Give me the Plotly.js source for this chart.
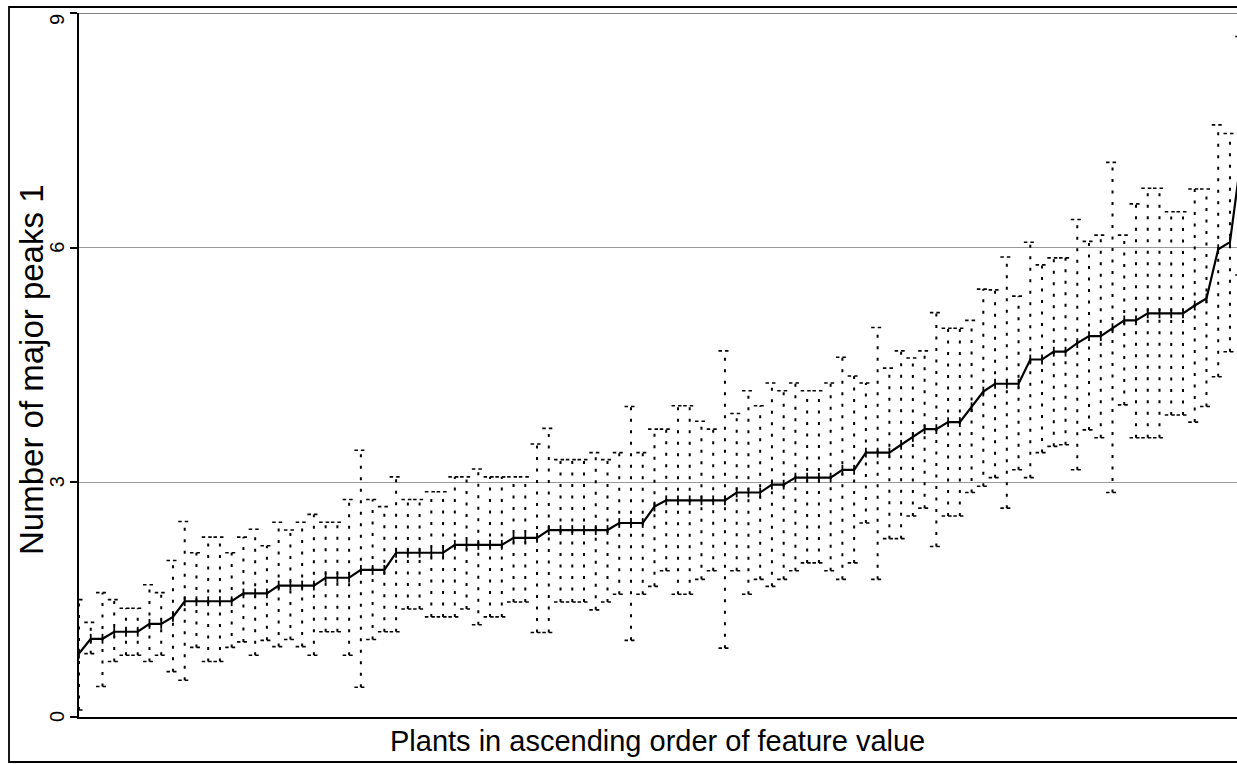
<!DOCTYPE html>
<html><head><meta charset="utf-8">
<script src="https://cdn.plot.ly/plotly-3.0.1.min.js"></script>
<style>html,body{margin:0;padding:0;background:#fff;} #chart{width:1237px;height:764px;}</style>
</head><body><div id="chart"></div>
<script>
// Mean value per plant (plants ordered by ascending feature value)
const meanValues = [
  0.81, 1.00, 1.00, 1.09, 1.09, 1.09, 1.19, 1.19, 1.28, 1.48,
  1.48, 1.48, 1.48, 1.48, 1.58, 1.58, 1.58, 1.68, 1.68, 1.68,
  1.68, 1.78, 1.78, 1.78, 1.88, 1.88, 1.88, 2.10, 2.10, 2.10,
  2.10, 2.10, 2.20, 2.20, 2.20, 2.20, 2.20, 2.29, 2.29, 2.29,
  2.39, 2.39, 2.39, 2.39, 2.39, 2.39, 2.48, 2.48, 2.48, 2.69,
  2.77, 2.77, 2.77, 2.77, 2.77, 2.77, 2.87, 2.87, 2.87, 2.97,
  2.97, 3.06, 3.06, 3.06, 3.06, 3.16, 3.16, 3.38, 3.38, 3.38,
  3.48, 3.58, 3.68, 3.68, 3.77, 3.77, 3.96, 4.16, 4.26, 4.26,
  4.26, 4.57, 4.57, 4.67, 4.67, 4.78, 4.87, 4.87, 4.97, 5.07,
  5.07, 5.16, 5.16, 5.16, 5.16, 5.26, 5.35, 5.98, 6.07, 7.20
];
// Upper end of each plant's error bar
const upperValues = [
  1.50, 1.21, 1.59, 1.50, 1.39, 1.39, 1.69, 1.59, 2.00, 2.50,
  2.10, 2.30, 2.30, 2.10, 2.30, 2.40, 2.19, 2.49, 2.39, 2.49,
  2.59, 2.49, 2.49, 2.78, 3.41, 2.78, 2.69, 3.07, 2.78, 2.78,
  2.88, 2.88, 3.07, 3.07, 3.17, 3.07, 3.07, 3.07, 3.07, 3.49,
  3.69, 3.29, 3.29, 3.29, 3.38, 3.29, 3.38, 3.97, 3.38, 3.68,
  3.68, 3.98, 3.98, 3.78, 3.68, 4.68, 3.88, 4.17, 3.98, 4.27,
  4.17, 4.27, 4.17, 4.17, 4.27, 4.60, 4.36, 4.27, 4.98, 4.46,
  4.68, 4.59, 4.68, 5.17, 4.97, 4.97, 5.07, 5.47, 5.46, 5.88,
  5.38, 6.07, 5.78, 5.87, 5.87, 6.36, 6.08, 6.16, 7.09, 6.16,
  6.56, 6.76, 6.76, 6.46, 6.46, 6.75, 6.75, 7.57, 7.46, 8.70
];
// Lower end of each plant's error bar
const lowerValues = [
  0.09, 0.81, 0.39, 0.71, 0.79, 0.79, 0.71, 0.79, 0.58, 0.47,
  0.89, 0.71, 0.71, 0.89, 0.96, 0.79, 0.98, 0.90, 0.99, 0.90,
  0.79, 1.09, 1.09, 0.79, 0.38, 0.99, 1.09, 1.09, 1.38, 1.38,
  1.28, 1.28, 1.28, 1.38, 1.18, 1.28, 1.28, 1.47, 1.47, 1.08,
  1.08, 1.47, 1.47, 1.47, 1.37, 1.47, 1.57, 0.98, 1.57, 1.67,
  1.87, 1.57, 1.57, 1.76, 1.87, 0.88, 1.87, 1.57, 1.76, 1.67,
  1.76, 1.87, 1.97, 1.97, 1.87, 1.76, 1.97, 2.48, 1.76, 2.28,
  2.28, 2.57, 2.67, 2.18, 2.57, 2.57, 2.87, 2.95, 3.06, 2.67,
  3.16, 3.06, 3.38, 3.46, 3.48, 3.16, 3.67, 3.57, 2.87, 3.99,
  3.57, 3.57, 3.57, 3.86, 3.86, 3.77, 3.97, 4.35, 4.67, 5.65
];
const yTickValues = [0, 3, 6, 9];
const yTickLabels = ['0', '3', '6', '9'];
const xTitleText = 'Plants in ascending order of feature value';
const yTitleText = 'Number of major peaks 1';

const plantRank = meanValues.map((_, i) => i);
const barX = [], barY = [], capX = [], capY = [];
plantRank.forEach(i => {
  barX.push(i, i, null);
  barY.push(lowerValues[i], upperValues[i], null);
  capX.push(i - 0.55, i + 0.55, null, i - 0.55, i + 0.55, null);
  capY.push(upperValues[i], upperValues[i], null, lowerValues[i], lowerValues[i], null);
});

const traces = [
  { x: barX, y: barY, type: 'scatter', mode: 'lines', hoverinfo: 'skip',
    line: { color: '#000', width: 2, dash: '3px,8.5px' }, showlegend: false },
  { x: capX, y: capY, type: 'scatter', mode: 'lines', hoverinfo: 'skip',
    line: { color: '#000', width: 1.6, dash: '3.5px,3px' }, showlegend: false },
  { x: plantRank, y: meanValues, type: 'scatter', mode: 'lines+markers',
    line: { color: '#000', width: 2.2 },
    marker: { symbol: 'line-ns-open', size: 7, color: '#000', line: { color: '#000', width: 1.8 } },
    showlegend: false }
];

const W = 1237, H = 764, L = 79, R = 0, T = 13, B = 47;
const pw = W - L - R, ph = H - T - B;
const px = p => (p - L) / pw;
const py = p => (H - B - p) / ph;
const FONT = 'Liberation Sans, Arial, Helvetica, sans-serif';

// tick labels as rotated text placed on the y scale
const tickAnnotations = yTickValues.map((v, k) => ({
  text: yTickLabels[k], xref: 'paper', yref: 'y', x: px(57), y: v,
  yshift: v === 9 ? -7 : 0,
  xanchor: 'center', yanchor: 'middle', showarrow: false, textangle: -90,
  font: { size: 20, color: '#000', family: FONT }
}));

const layout = {
  width: W, height: H,
  margin: { l: L, r: R, t: T, b: B, pad: 0 },
  paper_bgcolor: '#fff', plot_bgcolor: '#fff',
  font: { family: FONT, color: '#000' },
  xaxis: {
    range: [0, 98.6], showline: true, linecolor: '#000', linewidth: 2,
    showticklabels: false, ticks: '', showgrid: false, zeroline: false
  },
  yaxis: {
    range: [0, 9], tickvals: yTickValues, showticklabels: false,
    ticks: 'outside', ticklen: 7, tickwidth: 2, tickcolor: '#000',
    showline: true, linecolor: '#000', linewidth: 2,
    showgrid: true, gridcolor: '#999', gridwidth: 1, zeroline: false
  },
  shapes: [
    { type: 'line', xref: 'paper', yref: 'y', x0: 0, x1: 1, y0: 9, y1: 9,
      line: { color: '#555', width: 1.5 } },
    { type: 'rect', xref: 'paper', yref: 'paper',
      x0: px(9), x1: px(1245), y0: py(762), y1: py(7),
      line: { color: '#000', width: 1.8 }, fillcolor: 'rgba(0,0,0,0)' }
  ],
  annotations: tickAnnotations.concat([
    { text: xTitleText, xref: 'paper', yref: 'paper', x: px(657), y: py(741),
      xanchor: 'center', yanchor: 'middle', showarrow: false,
      font: { size: 29, color: '#000', family: FONT } },
    { text: yTitleText, xref: 'paper', yref: 'paper', x: px(31), y: py(370),
      xanchor: 'center', yanchor: 'middle', showarrow: false, textangle: -90,
      font: { size: 33, color: '#000', family: FONT } }
  ])
};

Plotly.newPlot('chart', traces, layout, { staticPlot: true });
</script>
</body></html>
